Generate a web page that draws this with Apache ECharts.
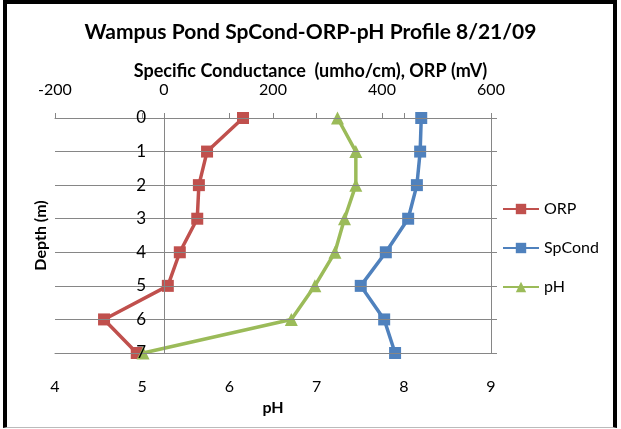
<!DOCTYPE html>
<html>
<head>
<meta charset="utf-8">
<title>Wampus Pond SpCond-ORP-pH Profile</title>
<script src="https://cdn.jsdelivr.net/npm/echarts@6/dist/echarts.min.js"></script>
<style>
  html, body { margin: 0; padding: 0; background: #fff; }
  #chart { position: absolute; left: 0; top: 0; width: 621px; height: 429px; }
  #frame {
    position: absolute; left: 3px; top: 0; width: 614px; height: 428px;
    border-left: 4px solid #000; border-top: 4px solid #000; border-right: 4px solid #000;
    border-bottom: 1px solid #bbb; box-sizing: border-box; pointer-events: none;
  }
</style>
</head>
<body>
<div id="chart"></div>
<div id="frame"></div>
<script>
// depth of each reading (m)
const depths = [0, 1, 2, 3, 4, 5, 6, 7]
// ORP (mV)
const orp = [145, 79, 64, 61, 29, 7, -110, -50]
// specific conductance (umho/cm)
const spCond = [472, 470, 464, 448, 407, 361, 404, 424]
// pH
const ph = [7.24, 7.45, 7.45, 7.32, 7.21, 6.98, 6.71, 5.01]

const grey = '#868686'
const font = 'Lato, "Open Sans", sans-serif'

function pairs(vals) {
  return vals.map((v, i) => [v, depths[i]])
}

let myChart = echarts.init(document.getElementById('chart'))
let options = {
  animation: false,
  textStyle: { fontFamily: font, color: '#000' },
  title: [
    {
      text: 'Wampus Pond SpCond-ORP-pH Profile 8/21/09',
      left: 'center',
      top: 17,
      textStyle: { fontFamily: font, fontSize: 21, fontWeight: 'bold', color: '#000' }
    },
    {
      text: 'Specific Conductance  (umho/cm), ORP (mV)',
      left: 'center',
      top: 57,
      textStyle: { fontFamily: font, fontSize: 18, fontWeight: 'bold', color: '#000' }
    }
  ],
  legend: {
    orient: 'vertical',
    left: 497,
    top: 196,
    itemWidth: 36,
    itemHeight: 13,
    itemGap: 23,
    textStyle: { fontFamily: font, fontSize: 16, color: '#000' },
    data: ['ORP', 'SpCond', 'pH']
  },
  grid: { left: 55, right: 130, top: 118, bottom: 76, outerBoundsMode: 'none', containLabel: false },
  xAxis: [
    {
      type: 'value',
      position: 'top',
      min: -200,
      max: 600,
      interval: 200,
      axisLine: { show: true, onZero: false, lineStyle: { color: grey, width: 1 } },
      axisTick: { show: true, inside: false, length: 5, lineStyle: { color: grey } },
      axisLabel: { margin: 20, fontSize: 16, color: '#000' },
      splitLine: { show: false }
    },
    {
      type: 'value',
      position: 'bottom',
      min: 4,
      max: 9,
      interval: 1,
      name: 'pH',
      nameLocation: 'middle',
      nameGap: 47,
      nameTextStyle: { fontFamily: font, fontSize: 16, fontWeight: 'bold', color: '#000' },
      axisLine: { show: true, onZero: false, lineStyle: { color: grey, width: 1 } },
      axisTick: { show: false },
      axisLabel: { margin: 26, fontSize: 16, color: '#000' },
      splitLine: { show: false }
    },
    {
      // pH tick marks sit on the top line
      type: 'value',
      position: 'top',
      min: 4,
      max: 9,
      interval: 1,
      axisLine: { show: false, onZero: false },
      axisTick: { show: true, length: 5, lineStyle: { color: grey } },
      axisLabel: { show: false },
      splitLine: { show: false }
    }
  ],
  yAxis: [
    {
      // crosses the top axis at 0
      type: 'value',
      position: 'left',
      offset: -109,
      inverse: true,
      min: 0,
      max: 7,
      interval: 1,
      z: 10,
      name: 'Depth (m)',
      nameLocation: 'middle',
      nameGap: 115,
      nameRotate: 90,
      nameTextStyle: { fontFamily: font, fontSize: 16, fontWeight: 'bold', color: '#000' },
      axisLine: { show: true, onZero: false, lineStyle: { color: grey, width: 1 } },
      axisTick: { show: false },
      axisLabel: { margin: 18, fontSize: 17, color: '#000' },
      splitLine: { show: true, lineStyle: { color: grey, width: 1 } }
    },
    {
      type: 'value',
      position: 'right',
      inverse: true,
      min: 0,
      max: 7,
      interval: 1,
      axisLine: { show: true, onZero: false, lineStyle: { color: grey, width: 1 } },
      axisTick: { show: true, length: 6, lineStyle: { color: grey } },
      axisLabel: { show: false },
      splitLine: { show: false }
    }
  ],
  series: [
    {
      name: 'ORP',
      type: 'line',
      xAxisIndex: 0,
      yAxisIndex: 0,
      data: pairs(orp),
      symbol: 'rect',
      symbolSize: 12,
      color: '#C0504D',
      lineStyle: { width: 3.5 },
      itemStyle: { color: '#C0504D' }
    },
    {
      name: 'SpCond',
      type: 'line',
      xAxisIndex: 0,
      yAxisIndex: 0,
      data: pairs(spCond),
      symbol: 'rect',
      symbolSize: 12,
      color: '#4F81BD',
      lineStyle: { width: 3.5 },
      itemStyle: { color: '#4F81BD' }
    },
    {
      name: 'pH',
      type: 'line',
      xAxisIndex: 1,
      yAxisIndex: 0,
      data: pairs(ph),
      symbol: 'triangle',
      symbolSize: 13,
      color: '#9BBB59',
      lineStyle: { width: 3.5 },
      itemStyle: { color: '#9BBB59' }
    }
  ]
}
myChart.setOption(options)
</script>
</body>
</html>
